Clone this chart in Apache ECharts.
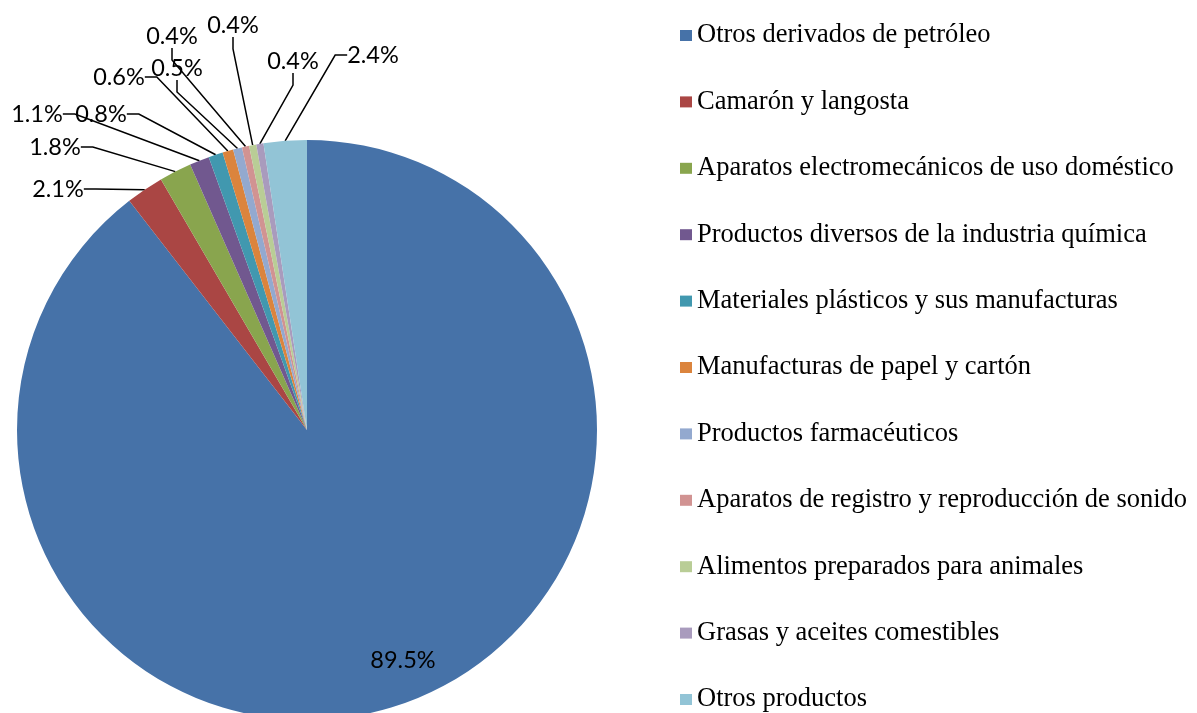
<!DOCTYPE html>
<html>
<head>
<meta charset="utf-8">
<script src="https://cdn.jsdelivr.net/npm/echarts@6/dist/echarts.min.js"></script>
<style>
  html, body { margin: 0; padding: 0; background: #fff; }
  #chart { width: 1197px; height: 713px; }
</style>
</head>
<body>
<div id="chart"></div>
<script>
  // categorías y participación (%)
  const categories = [
    'Otros derivados de petróleo',
    'Camarón y langosta',
    'Aparatos electromecánicos de uso doméstico',
    'Productos diversos de la industria química',
    'Materiales plásticos y sus manufacturas',
    'Manufacturas de papel y cartón',
    'Productos farmacéuticos',
    'Aparatos de registro y reproducción de sonido',
    'Alimentos preparados para animales',
    'Grasas y aceites comestibles',
    'Otros productos'
  ];
  const shares = [89.5, 2.1, 1.8, 1.1, 0.8, 0.6, 0.5, 0.4, 0.4, 0.4, 2.4];
  const colors = ['#4672A8', '#AA4644', '#89A54E', '#71588F', '#4198AF', '#DB843D',
                  '#93A9CF', '#D19392', '#B9CD96', '#A99BBD', '#92C4D6'];

  // posiciones de las etiquetas (centro del texto), como en el original
  const labelSpots = [
    [403, 660], [58, 189], [55, 147], [37, 114], [101, 114], [119, 77],
    [177, 68], [172, 36], [233, 25], [293, 61], [373, 55]
  ];

  const chart = echarts.init(document.getElementById('chart'));

  const data = categories.map((name, i) => {
    const item = { name: name, value: shares[i] };
    if (i === 0) {
      item.labelLine = { show: false };
    }
    return item;
  });

  chart.setOption({
    animation: false,
    color: colors,
    legend: {
      orient: 'vertical',
      left: 680,
      top: 22,
      height: 700,
      padding: 0,
      itemWidth: 12,
      itemHeight: 11,
      itemGap: 39.4,
      icon: 'rect',
      textStyle: { fontFamily: 'Liberation Serif', fontSize: 26.5, color: '#000' },
      data: categories
    },
    series: [{
      type: 'pie',
      center: [307, 430],
      radius: 290,
      startAngle: 90,
      clockwise: true,
      avoidLabelOverlap: false,
      label: {
        show: true,
        formatter: p => p.value.toFixed(1) + '%',
        fontFamily: 'Lato',
        fontSize: 23.5,
        color: '#000'
      },
      labelLine: {
        show: true,
        length: 20,
        length2: 12,
        lineStyle: { color: '#000', width: 1.5 }
      },
      labelLayout: function (params) {
        const s = labelSpots[params.dataIndex];
        return { x: s[0], y: s[1], align: 'center', verticalAlign: 'middle' };
      },
      emphasis: { disabled: true },
      data: data
    }]
  });
</script>
</body>
</html>
